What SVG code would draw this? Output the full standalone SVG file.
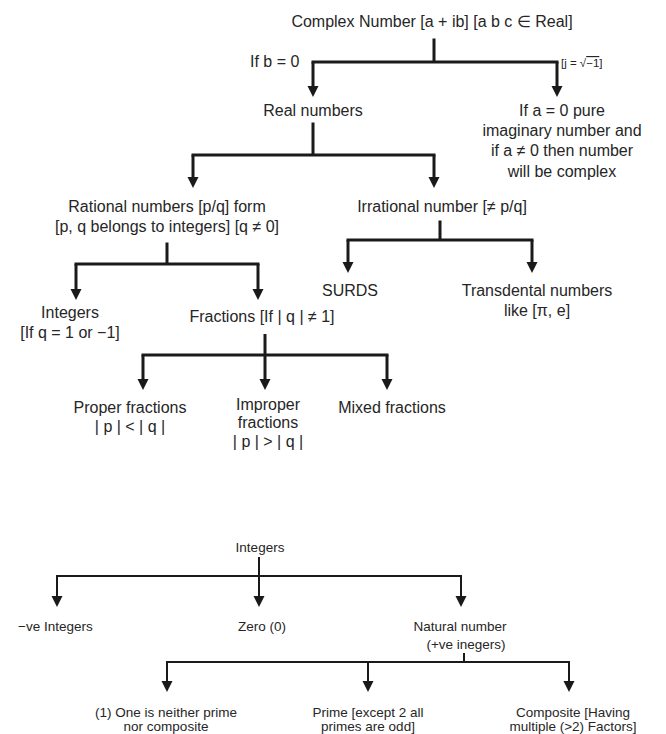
<svg xmlns="http://www.w3.org/2000/svg" width="666" height="734" viewBox="0 0 666 734">
<style>
text{font-family:"Liberation Sans",Arial,sans-serif;fill:#262626;text-anchor:middle}
.t{font-size:16px}
.b{font-size:13.5px}
.s{font-size:11.5px;text-anchor:start}
.l{text-anchor:start}
.c{fill:none;stroke:#1a1a1a;stroke-linecap:square}
.w3{stroke-width:3}
.w2{stroke-width:2}
.a{marker-end:url(#ah);stroke-linecap:butt}
</style>
<defs>
<marker id="ah" markerUnits="userSpaceOnUse" markerWidth="14" markerHeight="14" refX="2" refY="5.5" orient="auto">
<path d="M0,0 L11,5.5 L0,11 z" fill="#1a1a1a"/>
</marker>
</defs>
<rect width="666" height="734" fill="#fff"/>
<g id="connectors">
<path class="c w3" d="M434 40 V62 M313 62 H557"/>
<path class="c w3 a" d="M313 62 V88"/>
<path class="c w3 a" d="M557 62 V88"/>
<path class="c w3" d="M313 124 V155 M193 155 H434"/>
<path class="c w3 a" d="M193 155 V179"/>
<path class="c w3 a" d="M434 155 V179"/>
<path class="c w3" d="M440 222 V240 M348 240 H532"/>
<path class="c w3 a" d="M348 240 V264"/>
<path class="c w3 a" d="M532 240 V264"/>
<path class="c w3" d="M167 244 V264 M76 264 H258"/>
<path class="c w3 a" d="M76 264 V291"/>
<path class="c w3 a" d="M258 264 V291"/>
<path class="c w3" d="M143 355 H387"/>
<path class="c w3 a" d="M265 334 V381"/>
<path class="c w3 a" d="M143 355 V381"/>
<path class="c w3 a" d="M387 355 V381"/>
<path class="c w2" d="M57 576 H461"/>
<path class="c w2 a" d="M259 557 V598"/>
<path class="c w2 a" d="M57 576 V598"/>
<path class="c w2 a" d="M461 576 V598"/>
<path class="c w2" d="M464 654 V662 M167 662 H569"/>
<path class="c w2 a" d="M167 662 V683"/>
<path class="c w2 a" d="M368 662 V683"/>
<path class="c w2 a" d="M569 662 V683"/>
</g>
<g id="complex"><text class="t" x="432" y="27">Complex Number [a + ib] [a b c ∈ Real]</text></g>
<g id="cond-b"><text class="t l" x="250" y="67">If b = 0</text></g>
<g id="note-j"><text class="s" x="561" y="67">[j = √<tspan text-decoration="overline">−1</tspan>]</text></g>
<g id="real"><text class="t" x="313" y="116">Real numbers</text></g>
<g id="imaginary">
<text class="t" x="562" y="116">If a = 0 pure</text>
<text class="t" x="562" y="136">imaginary number and</text>
<text class="t" x="562" y="156">if a ≠ 0 then number</text>
<text class="t" x="562" y="177">will be complex</text>
</g>
<g id="rational">
<text class="t" x="167" y="212">Rational numbers [p/q] form</text>
<text class="t" x="167" y="232">[p, q belongs to integers] [q ≠ 0]</text>
</g>
<g id="irrational"><text class="t" x="442" y="212">Irrational number [≠ p/q]</text></g>
<g id="surds"><text class="t" x="350" y="296">SURDS</text></g>
<g id="transdental">
<text class="t" x="537" y="296">Transdental numbers</text>
<text class="t" x="537" y="316">like [π, e]</text>
</g>
<g id="integers1">
<text class="t" x="70" y="318">Integers</text>
<text class="t" x="70" y="338">[If q = 1 or −1]</text>
</g>
<g id="fractions"><text class="t" x="262" y="322">Fractions [If | q | ≠ 1]</text></g>
<g id="proper">
<text class="t" x="130" y="413">Proper fractions</text>
<text class="t" x="130" y="432">| p | &lt; | q |</text>
</g>
<g id="improper">
<text class="t" x="268" y="410">Improper</text>
<text class="t" x="268" y="428">fractions</text>
<text class="t" x="268" y="447">| p | &gt; | q |</text>
</g>
<g id="mixed"><text class="t" x="392" y="413">Mixed fractions</text></g>
<g id="integers2"><text class="b" x="260" y="552">Integers</text></g>
<g id="negative"><text class="b l" x="18" y="631">−ve Integers</text></g>
<g id="zero"><text class="b" x="262" y="631">Zero (0)</text></g>
<g id="natural">
<text class="b" x="460" y="631">Natural number</text>
<text class="b" x="466" y="649">(+ve inegers)</text>
</g>
<g id="one">
<text class="b" x="166" y="717">(1) One is neither prime</text>
<text class="b" x="166" y="731">nor composite</text>
</g>
<g id="prime">
<text class="b" x="368" y="717">Prime [except 2 all</text>
<text class="b" x="368" y="731">primes are odd]</text>
</g>
<g id="composite">
<text class="b" x="573" y="717">Composite [Having</text>
<text class="b" x="573" y="731">multiple (&gt;2) Factors]</text>
</g>
</svg>
